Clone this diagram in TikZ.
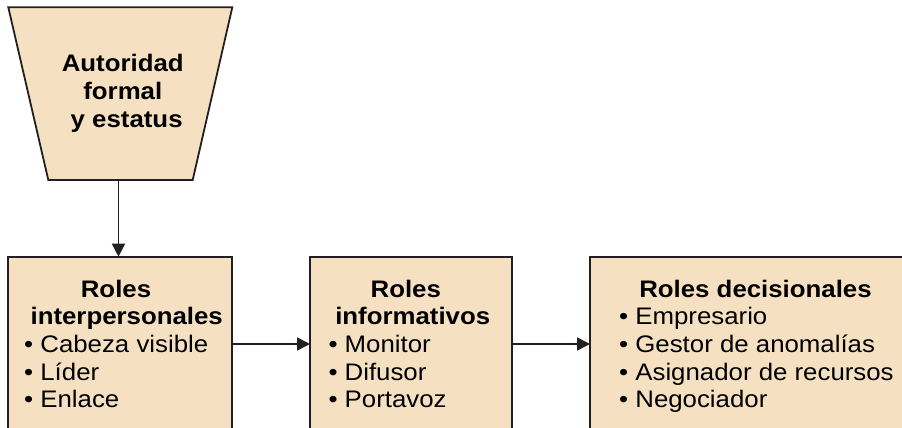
\documentclass[tikz,border=0pt]{standalone}
\usepackage{fontspec}
\setmainfont{Liberation Sans}[FakeStretch=1.08]
\usetikzlibrary{arrows.meta}
\definecolor{boxfill}{HTML}{F5E1C2}
\definecolor{edge}{HTML}{231F20}
\begin{document}
\begin{tikzpicture}[x=1pt,y=-1pt,
  box/.style={draw=edge, fill=boxfill, line width=1.8pt, rectangle, inner sep=0pt, outer sep=0pt},
  txt/.style={anchor=base, inner sep=0pt, font=\fontsize{23.9}{27.7}\selectfont},
  head/.style={txt, font=\fontsize{23.9}{27.7}\selectfont\bfseries},
  item/.style={txt, anchor=base west},
  arr/.style={draw=edge, line width=1.6pt, -{Triangle[length=13pt,width=13pt]}}]
\useasboundingbox (0,0) rectangle (902,428);

% top trapezium: formal authority and status
\draw[draw=edge, fill=boxfill, line width=1.8pt, line join=miter]
  (8.3,7.3) -- (232.3,7.3) -- (192.7,180) -- (48.3,180) -- cycle;
\coordinate (tbot) at (118.5,180);
\node[head] (a1) at (122.7,71.7) {Autoridad};
\node[head] (a2) at (122.8,99.4) {formal};
\node[head] (a3) at (126.7,127.1) {y estatus};

% the three role boxes (they run past the lower edge)
\node[box, minimum width=224pt, minimum height=200pt] (b1) at (120.3,356.7) {};
\node[box, minimum width=202.3pt, minimum height=200pt] (b2) at (411.15,356.7) {};
\node[box, minimum width=340pt, minimum height=200pt] (b3) at (760,356.7) {};

% interpersonal roles
\node[head] (h1a) at (116,297) {Roles};
\node[head] (h1b) at (126.7,324.7) {interpersonales};
\node[item] (i11) at (24,352.4) {• Cabeza visible};
\node[item] (i12) at (24,380.1) {• Líder};
\node[item] (i13) at (24,407.8) {• Enlace};

% informational roles
\node[head] (h2a) at (405.8,297) {Roles};
\node[head] (h2b) at (412.7,324.7) {informativos};
\node[item] (i21) at (328.3,352.4) {• Monitor};
\node[item] (i22) at (328.3,380.1) {• Difusor};
\node[item] (i23) at (328.3,407.8) {• Portavoz};

% decisional roles
\node[head] (h3a) at (755.5,297) {Roles decisionales};
\node[item] (i31) at (619,324.7) {• Empresario};
\node[item] (i32) at (619,352.4) {• Gestor de anomalías};
\node[item] (i33) at (619,380.1) {• Asignador de recursos};
\node[item] (i34) at (619,407.8) {• Negociador};

% connectors
\coordinate (lvl) at (0,344);
\draw[arr] (tbot) -- (tbot |- b1.north);
\draw[arr] (b1.east |- lvl) -- (b2.west |- lvl);
\draw[arr] (b2.east |- lvl) -- (b3.west |- lvl);
\end{tikzpicture}
\end{document}
